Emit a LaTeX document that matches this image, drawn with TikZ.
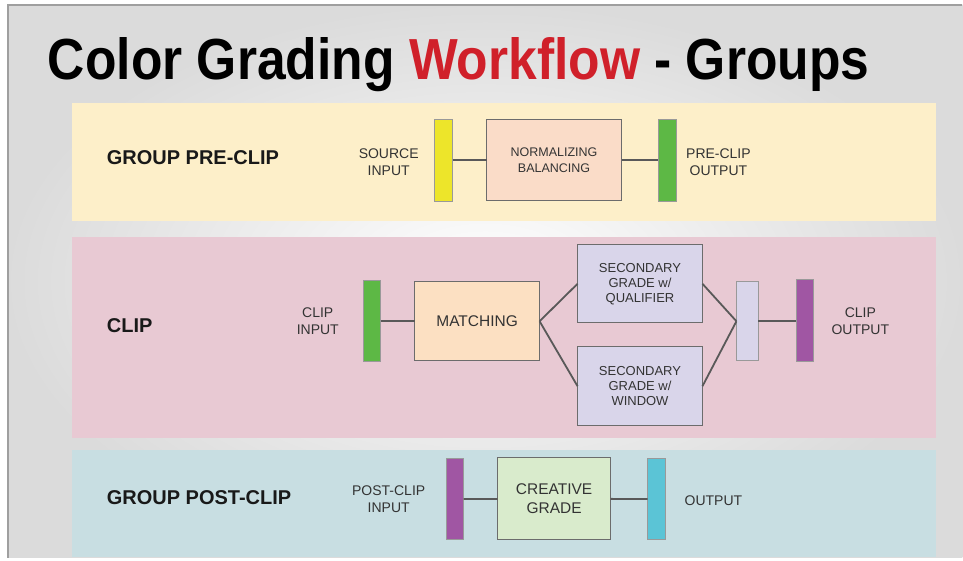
\documentclass[tikz,border=0pt]{standalone}
\usepackage{fontspec}
\setmainfont{Liberation Sans}
\definecolor{bandyellow}{HTML}{FDEFC9}
\definecolor{bandpink}{HTML}{E8C9D3}
\definecolor{bandblue}{HTML}{C8DEE2}
\definecolor{peachbox}{HTML}{FADCC8}
\definecolor{matchbox}{HTML}{FCE0C2}
\definecolor{lavbox}{HTML}{D9D5EA}
\definecolor{greenbox}{HTML}{D9EBCC}
\definecolor{baryellow}{HTML}{EDE52A}
\definecolor{bargreen}{HTML}{5DB845}
\definecolor{barpurple}{HTML}{A056A3}
\definecolor{barcyan}{HTML}{5BC4D6}
\definecolor{titlered}{HTML}{D0202A}
\begin{document}
\begin{tikzpicture}[
                x=1pt, y=-1pt,
                every node/.style={inner sep=0pt, outer sep=0pt},
                bar/.style={draw=gray!80, line width=0.6pt, minimum width=17pt, minimum height=82pt},
                procbox/.style={draw=gray!85!black, line width=0.8pt, align=center, text=black!80,
                    font=\fontsize{13}{15}\selectfont},
                lbl/.style={align=center, text=black!80, font=\fontsize{14}{17}\selectfont},
                grouplbl/.style={anchor=west, text=black!90, font=\bfseries\fontsize{20}{24}\selectfont},
                wire/.style={draw=black!65, line width=1.8pt}
            ]

            % slide background
            \fill[white] (0,0) rectangle (963,561);
            \shade[inner color=white, outer color=gray!28] (8,5) rectangle (963,558);
            \draw[gray!75, line width=1.5pt] (8,558) -- (8,5) -- (963,5);

            \node[anchor=base west, font=\bfseries\fontsize{58}{60}\selectfont] (title) at (48,80)
                {\scalebox{0.89}[1]{Color Grading \textcolor{titlered}{Workflow} - Groups}};

            % bands
            \fill[bandyellow] (72,103) rectangle (937,221);
            \fill[bandpink] (72,237) rectangle (937,438);
            \fill[bandblue] (72,450) rectangle (937,557);

            % group pre-clip
            \node[grouplbl] (preclip) at (107,158) {GROUP PRE-CLIP};
            \node[lbl] (srcin) at (389,162) {SOURCE\\INPUT};
            \node[bar, fill=baryellow, minimum width=18pt] (srcbar) at (444,160) {};
            \node[procbox, fill=peachbox, minimum width=135pt, minimum height=82pt,
                font=\fontsize{12.5}{16}\selectfont] (norm) at (554.5,160) {NORMALIZING\\BALANCING};
            \node[bar, fill=bargreen, minimum width=18pt] (prebar) at (668,160) {};
            \node[lbl] (preout) at (719,162) {PRE-CLIP\\OUTPUT};
            \draw[wire] (srcbar) -- (norm);
            \draw[wire] (norm) -- (prebar);

            % clip
            \node[grouplbl] (clip) at (107,326) {CLIP};
            \node[lbl] (clipin) at (318,321) {CLIP\\INPUT};
            \node[bar, fill=bargreen, minimum height=81pt] (inbar) at (372.5,321.5) {};
            \node[procbox, fill=matchbox, minimum width=125pt, minimum height=79pt,
                font=\fontsize{15.5}{18}\selectfont] (match) at (477.5,321.5) {MATCHING};
            \node[procbox, fill=lavbox, minimum width=125pt, minimum height=78pt] (qual) at (640.5,284)
                {SECONDARY\\GRADE w/\\QUALIFIER};
            \node[procbox, fill=lavbox, minimum width=125pt, minimum height=79pt] (window) at (640.5,386.5)
                {SECONDARY\\GRADE w/\\WINDOW};
            \node[bar, fill=lavbox, minimum width=22pt, minimum height=79pt] (mixbar) at (748,321.5) {};
            \node[bar, fill=barpurple] (outbar) at (805.5,321) {};
            \node[lbl] (clipout) at (861,321) {CLIP\\OUTPUT};
            \draw[wire] (inbar) -- (match);
            \draw[wire] (match.east) -- (qual.west);
            \draw[wire] (match.east) -- (window.west);
            \draw[wire] (qual.east) -- (mixbar.west);
            \draw[wire] (window.east) -- (mixbar.west);
            \draw[wire] (mixbar.east) -- (mixbar.east -| outbar.west);

            % group post-clip
            \node[grouplbl] (postclip) at (107,498) {GROUP POST-CLIP};
            \node[lbl] (postin) at (389,500) {POST-CLIP\\INPUT};
            \node[bar, fill=barpurple, minimum height=81pt] (postbar) at (455.5,499.5) {};
            \node[procbox, fill=greenbox, minimum width=113pt, minimum height=82pt,
                font=\fontsize{15.5}{19}\selectfont] (creative) at (554.5,499) {CREATIVE\\GRADE};
            \node[bar, fill=barcyan, minimum width=18pt, minimum height=81pt] (finalbar) at (657,499.5) {};
            \node[lbl] (output) at (714,501) {OUTPUT};
            \draw[wire] (postbar) -- (creative);
            \draw[wire] (creative) -- (finalbar);

            \useasboundingbox (0,0) rectangle (963,561);
        \end{tikzpicture}
\end{document}
